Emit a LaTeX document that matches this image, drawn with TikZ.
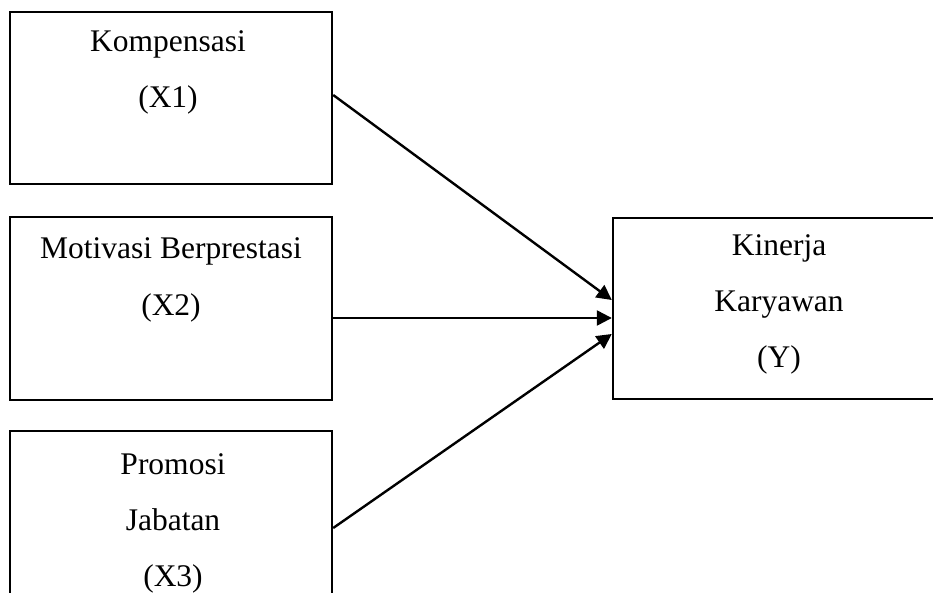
\documentclass[tikz,border=0pt]{standalone}
\usepackage{fontspec}
\setmainfont{Liberation Serif}
\usetikzlibrary{arrows.meta}
\begin{document}
\begin{tikzpicture}[x=1pt, y=-1pt,
    box/.style={rectangle, draw, line width=2.4pt, minimum width=322pt, inner sep=0pt},
    txt/.style={anchor=base, align=center, font=\fontsize{31.5}{56}\selectfont},
    arr/.style={line width=2.4pt, -{Triangle[length=15pt, width=15pt]}}]
                \useasboundingbox (0,0) rectangle (933,593);
                \clip (0,0) rectangle (933,593);
                \node [box, minimum height=172pt] (X1) at (171,98) {};
                \node [box, minimum height=183pt] (X2) at (171,308.5) {};
                \node [box, minimum height=209pt] (X3) at (171,535.5) {};
                \node [box, minimum width=332pt, minimum height=181pt] (Y) at (779,308.5) {};
                \node [txt] (X1t) at (168,108) {Kompensasi\\(X1)};
                \node [txt] (X2t) at (171,315) {Motivasi Berprestasi\\(X2)};
                \node [txt] (X3t) at (173,586) {Promosi\\Jabatan\\(X3)};
                \node [txt] (Yt) at (779,367) {Kinerja\\Karyawan\\(Y)};
                \draw [arr] ([yshift=3pt]X1.east) -- ([yshift=8.5pt]Y.west);
                \draw [arr] ([yshift=-9.5pt]X2.east) -- ([yshift=-9.5pt]Y.west);
                \draw [arr] ([yshift=7.5pt]X3.east) -- ([yshift=-25.5pt]Y.west);
            \end{tikzpicture}
\end{document}
